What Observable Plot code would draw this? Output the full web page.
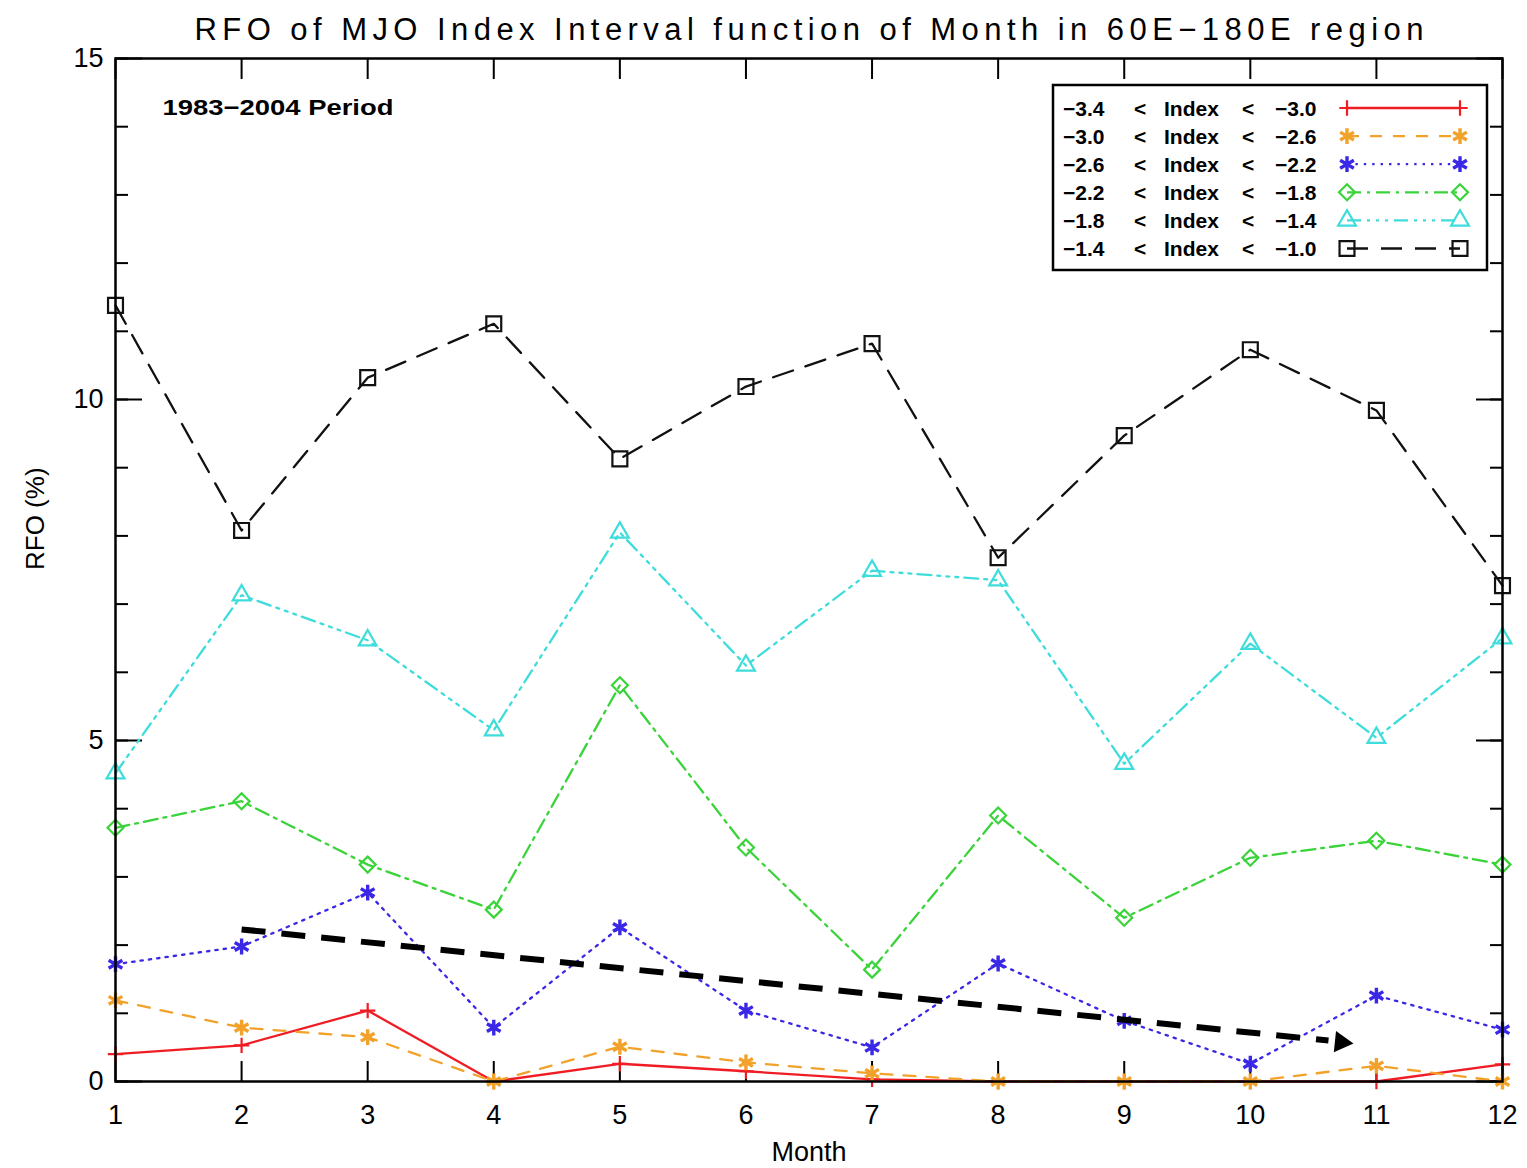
<!DOCTYPE html>
<html><head><meta charset="utf-8">
<script src="https://cdn.jsdelivr.net/npm/d3@7"></script>
<script src="https://cdn.jsdelivr.net/npm/@observablehq/plot@0.6"></script>
<style>
body{margin:0;background:#fff}
#chart{position:relative;width:1527px;height:1168px}
</style>
</head><body><div id="chart"></div>
<script>
// ---------- data ----------
const months = [1, 2, 3, 4, 5, 6, 7, 8, 9, 10, 11, 12];
const seriesNames = [
  "−3.4 < Index < −3.0",
  "−3.0 < Index < −2.6",
  "−2.6 < Index < −2.2",
  "−2.2 < Index < −1.8",
  "−1.8 < Index < −1.4",
  "−1.4 < Index < −1.0"
];
const rfo_34_30 = [0.40, 0.53, 1.04, 0.00, 0.26, 0.15, 0.03, 0.00, 0.00, 0.00, 0.00, 0.25];
const rfo_30_26 = [1.19, 0.79, 0.65, 0.00, 0.51, 0.28, 0.12, 0.00, 0.00, 0.00, 0.23, 0.00];
const rfo_26_22 = [1.72, 1.98, 2.77, 0.79, 2.26, 1.04, 0.50, 1.73, 0.89, 0.26, 1.26, 0.76];
const rfo_22_18 = [3.72, 4.11, 3.18, 2.52, 5.81, 3.43, 1.64, 3.90, 2.40, 3.28, 3.53, 3.18];
const rfo_18_14 = [4.52, 7.13, 6.47, 5.15, 8.05, 6.10, 7.49, 7.35, 4.66, 6.42, 5.04, 6.50];
const rfo_14_10 = [11.38, 8.08, 10.32, 11.11, 9.13, 10.19, 10.82, 7.68, 9.47, 10.73, 9.84, 7.27];
const yMajorTicks = [0, 5, 10, 15];
const yMinorTicks = [0, 1, 2, 3, 4, 5, 6, 7, 8, 9, 10, 11, 12, 13, 14, 15];
const trendArrow = [{x1: 2, y1: 2.23, x2: 10.62, y2: 0.60}];
const trendArrowHead = [{x: 10.72, y: 0.575}];
const titleText = "RFO of MJO Index Interval function of Month in 60E−180E region";
const periodText = "1983−2004 Period";

// ---------- styles ----------
const styles = [
  {color: "#f01c24", dash: null,                      symbol: "plus",      r: 5,   sw: 2.2},
  {color: "#f2a22a", dash: "12,11",                   symbol: "asterisk",  r: 7.5, sw: 3.4},
  {color: "#3a28e6", dash: "2.4,6",                   symbol: "asterisk",  r: 7.5, sw: 3.4},
  {color: "#3ad43a", dash: "14,6,3,6",                symbol: "diamond2",  r: 7.2, sw: 2.2},
  {color: "#3fdcdc", dash: "14,6,3,6,3,6,3,6",        symbol: "triangle2", r: 8.5, sw: 2.2},
  {color: "#111111", dash: "21,13",                   symbol: "square2",   r: 9.5, sw: 2.2}
];
const allValues = [rfo_34_30, rfo_30_26, rfo_26_22, rfo_22_18, rfo_18_14, rfo_14_10];

const series = allValues.map((vals, i) => ({
  name: seriesNames[i],
  style: styles[i],
  rows: months.map((m, j) => ({month: m, value: vals[j]}))
}));

const font = "'Liberation Sans', Arial, sans-serif";

const marks = [];
series.forEach(s => {
  marks.push(Plot.line(s.rows, {x: "month", y: "value", stroke: s.style.color,
    strokeWidth: 2.3, strokeDasharray: s.style.dash, strokeLinejoin: "round"}));
});
series.forEach(s => {
  marks.push(Plot.dot(s.rows, {x: "month", y: "value", symbol: s.style.symbol, r: s.style.r,
    stroke: s.style.color, strokeWidth: s.style.sw, fill: "none"}));
});

const plot = Plot.plot({
  width: 1527, height: 1168,
  marginLeft: 115, marginRight: 25, marginTop: 58, marginBottom: 87,
  x: {domain: [1, 12]},
  y: {domain: [0, 15]},
  style: {fontFamily: font, background: "white", overflow: "visible", color: "black"},
  marks: [
    // inward ticks
    Plot.axisX({anchor: "bottom", ticks: months, tickSize: -20, tickFormat: () => "", label: null, strokeWidth: 2}),
    Plot.axisX({anchor: "top", ticks: months, tickSize: -20, tickFormat: () => "", label: null, strokeWidth: 2}),
    Plot.axisY({anchor: "left", ticks: yMajorTicks, tickSize: -27, tickFormat: () => "", label: null, strokeWidth: 2}),
    Plot.axisY({anchor: "left", ticks: yMinorTicks, tickSize: -13, tickFormat: () => "", label: null, strokeWidth: 2}),
    Plot.axisY({anchor: "right", ticks: yMajorTicks, tickSize: -27, tickFormat: () => "", label: null, strokeWidth: 2}),
    Plot.axisY({anchor: "right", ticks: yMinorTicks, tickSize: -13, tickFormat: () => "", label: null, strokeWidth: 2}),
    // labels
    Plot.axisX({anchor: "bottom", ticks: months, tickSize: 0, tickPadding: 23, fontSize: 27, label: null, tickFormat: d => String(d)}),
    Plot.axisY({anchor: "left", ticks: yMajorTicks, tickSize: 0, tickPadding: 12, fontSize: 27, label: null, tickFormat: d => String(d)}),
    Plot.text(["Month"], {frameAnchor: "bottom", dy: 71, fontSize: 27, text: d => d, lineAnchor: "middle"}),
    Plot.text(["RFO (%)"], {frameAnchor: "left", dx: -80, rotate: -90, fontSize: 26, text: d => d, lineAnchor: "middle"}),
    Plot.text([titleText], {frameAnchor: "top", dy: -28, fontSize: 31, text: d => d, lineAnchor: "middle", className: "ttl"}),
    Plot.text([periodText], {frameAnchor: "top-left", dx: 47, dy: 49, fontSize: 22, fontWeight: "bold", text: d => d,
      lineAnchor: "middle", textAnchor: "start", className: "period"}),
    ...marks,
    // trend arrow
    Plot.link(trendArrow, {x1: "x1", y1: "y1", x2: "x2", y2: "y2", stroke: "black", strokeWidth: 6, strokeDasharray: "24,16"}),
    Plot.dot(trendArrowHead, {x: "x", y: "y", symbol: "triangle", r: 8, fill: "black", stroke: "none", rotate: 95.9}),
    Plot.frame({stroke: "black", strokeWidth: 2.5})
  ]
});

document.getElementById("chart").appendChild(plot);

// stretch title & period text to match original widths
d3.select(plot).select(".ttl text").attr("textLength", 1229).attr("lengthAdjust", "spacing");
d3.select(plot).select(".period text").attr("textLength", 231).attr("lengthAdjust", "spacingAndGlyphs");

// ---------- legend ----------
const svg = d3.select(plot);
const lg = svg.append("g").attr("font-family", font).attr("font-weight", "bold").attr("font-size", 21)
  .attr("text-anchor", "start");
lg.append("rect").attr("x", 1053).attr("y", 85).attr("width", 434).attr("height", 185)
  .attr("fill", "white").attr("stroke", "black").attr("stroke-width", 2.5);
const partX = [1063, 1134, 1164, 1242, 1275];
const symMap = {plus: d3.symbolPlus, asterisk: d3.symbolAsterisk, diamond2: d3.symbolDiamond2,
  triangle2: d3.symbolTriangle2, square2: d3.symbolSquare2};
series.forEach((s, i) => {
  const y = 108 + i * 28.1;
  s.name.split(" ").forEach((p, k) => {
    lg.append("text").attr("x", partX[k]).attr("y", y).attr("dy", "0.36em").attr("fill", "black")
      .attr("text-anchor", "start").text(p);
  });
  lg.append("line").attr("x1", 1347).attr("x2", 1460).attr("y1", y).attr("y2", y)
    .attr("stroke", s.style.color).attr("stroke-width", 2.3).attr("stroke-dasharray", s.style.dash);
  const sym = d3.symbol(symMap[s.style.symbol], Math.PI * s.style.r * s.style.r)();
  [1347, 1460].forEach(x => {
    lg.append("path").attr("d", sym).attr("transform", `translate(${x},${y})`)
      .attr("fill", "none").attr("stroke", s.style.color).attr("stroke-width", s.style.sw);
  });
});
</script>
</body></html>
